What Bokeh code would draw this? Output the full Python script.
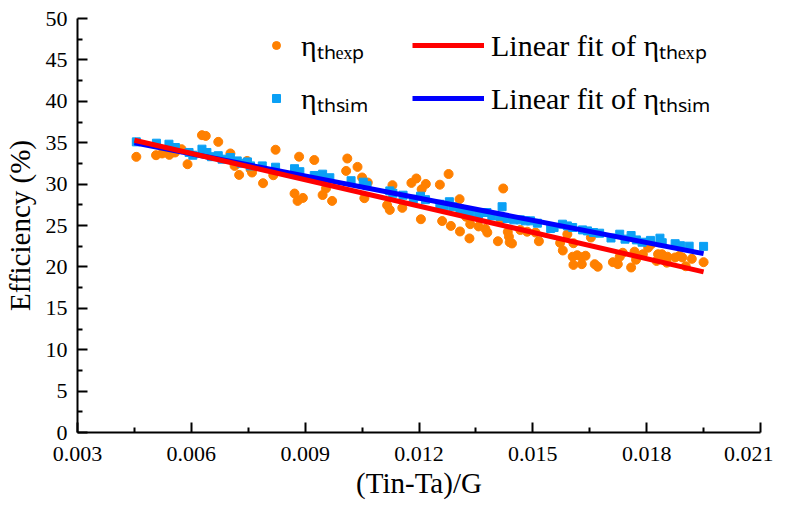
from bokeh.plotting import figure
from bokeh.models import (FixedTicker, PrintfTickFormatter, Legend, LegendItem, Range1d)
from bokeh.embed import file_html
from bokeh.resources import INLINE

# ---- data ----
exp_x = [0.00455, 0.00507, 0.00523, 0.00542, 0.00557, 0.00574, 0.00590, 0.00628, 0.00638, 0.00671,
         0.00703, 0.00714, 0.00726, 0.00747, 0.00756, 0.00760, 0.00789, 0.00822, 0.00816, 0.00872,
         0.00880, 0.00884, 0.00894, 0.00924, 0.00946, 0.00955, 0.00971, 0.01008, 0.01011, 0.01038,
         0.01050, 0.01056, 0.01065, 0.01116, 0.01123, 0.01130, 0.01156, 0.01180, 0.01193, 0.01207,
         0.01205, 0.01218, 0.01255, 0.01261, 0.01278, 0.01284, 0.01307, 0.01308, 0.01324, 0.01333,
         0.01335, 0.01357, 0.01375, 0.01380, 0.01408, 0.01415, 0.01422, 0.01434, 0.01437, 0.01439,
         0.01445, 0.01467, 0.01485, 0.01507, 0.01516, 0.01572, 0.01579, 0.01591, 0.01607, 0.01605,
         0.01617, 0.01629, 0.01639, 0.01607, 0.01629, 0.01653, 0.01663, 0.01671, 0.01711, 0.01724,
         0.01729, 0.01737, 0.01759, 0.01768, 0.01772, 0.01790, 0.01804, 0.01812, 0.01826, 0.01830,
         0.01840, 0.01847, 0.01855, 0.01853, 0.01875, 0.01886, 0.01894, 0.01903, 0.01919, 0.01950]
exp_y = [33.29, 33.49, 33.70, 33.53, 33.82, 34.22, 32.40, 35.91, 35.82, 35.10,
         33.70, 32.20, 31.11, 32.80, 31.80, 31.40, 30.11, 34.15, 31.07, 28.86,
         27.97, 33.31, 28.33, 32.91, 28.68, 29.48, 27.97, 31.59, 33.09, 32.08,
         30.80, 28.30, 30.19, 27.45, 26.88, 29.87, 27.13, 30.14, 30.68, 29.38,
         25.76, 30.02, 29.93, 25.54, 31.22, 24.95, 28.18, 24.28, 26.06, 23.44,
         25.16, 24.89, 24.59, 24.15, 23.10, 25.76, 29.47, 24.23, 23.65, 22.98,
         22.83, 24.46, 24.25, 24.15, 23.10, 22.90, 21.98, 23.95, 22.86, 21.23,
         21.41, 21.17, 21.35, 20.24, 20.33, 23.55, 20.33, 20.02, 20.57, 20.33,
         21.23, 21.71, 19.93, 21.84, 20.87, 21.53, 22.32, 22.74, 20.72, 21.53,
         21.53, 21.23, 21.23, 20.51, 21.14, 21.33, 21.14, 20.08, 20.97, 20.57]

sim_x = [0.00455, 0.00508, 0.00541, 0.00558, 0.00594, 0.00604, 0.00628, 0.00641, 0.00653, 0.00671,
         0.00681, 0.00703, 0.00721, 0.00732, 0.00748, 0.00756, 0.00787, 0.00822, 0.00872, 0.00886,
         0.00924, 0.00946, 0.00965, 0.01021, 0.01053, 0.01063, 0.01123, 0.01131, 0.01158, 0.01185,
         0.01204, 0.01217, 0.01255, 0.01266, 0.01280, 0.01289, 0.01308, 0.01322, 0.01333, 0.01357,
         0.01379, 0.01392, 0.01419, 0.01414, 0.01432, 0.01450, 0.01467, 0.01481, 0.01494, 0.01512,
         0.01547, 0.01556, 0.01578, 0.01591, 0.01605, 0.01631, 0.01644, 0.01660, 0.01676, 0.01706,
         0.01729, 0.01743, 0.01759, 0.01773, 0.01788, 0.01810, 0.01835, 0.01841, 0.01875, 0.01889,
         0.01912, 0.01950]
sim_y = [35.10, 34.94, 34.82, 34.42, 33.82, 33.49, 34.22, 33.82, 33.31, 33.43,
         33.01, 33.21, 32.80, 32.52, 32.68, 32.20, 32.20, 32.04, 31.86, 31.50,
         31.04, 31.20, 30.77, 30.41, 30.23, 29.81, 29.18, 28.90, 28.66, 28.18,
         28.54, 28.12, 27.57, 27.39, 27.87, 27.27, 26.97, 26.76, 26.57, 26.36,
         26.57, 26.16, 27.27, 26.12, 25.85, 25.68, 25.68, 25.56, 25.56, 25.28,
         24.64, 24.76, 25.16, 24.95, 24.76, 24.47, 24.35, 24.15, 24.07, 23.49,
         23.95, 23.35, 23.79, 23.26, 22.98, 23.20, 23.47, 22.92, 22.80, 22.56,
         22.50, 22.48]

fit_x = [0.0045, 0.0195]
fit_exp = [35.3, 19.4]
fit_sim = [35.0, 21.6]

x_ticks = [0.003, 0.006, 0.009, 0.012, 0.015, 0.018, 0.021]
y_ticks = [0, 5, 10, 15, 20, 25, 30, 35, 40, 45, 50]

label_exp = "η\u209c\u2095\u2091\u2093\u209a"
label_sim = "η\u209c\u2095\u209b\u1d62\u2098"

SERIF = "Liberation Serif"

p = figure(width=773, height=512,
           x_range=Range1d(0.003, 0.021), y_range=Range1d(0, 50),
           output_backend="svg", toolbar_location=None,
           min_border_left=75, min_border_top=18, min_border_right=13, min_border_bottom=80,
           background_fill_color="white", border_fill_color="white")
p.outline_line_color = None
p.xgrid.visible = False
p.ygrid.visible = False

x_minor = [(a + b) / 2 for a, b in zip(x_ticks[:-1], x_ticks[1:])]
y_minor = [(a + b) / 2 for a, b in zip(y_ticks[:-1], y_ticks[1:])]
p.xaxis.ticker = FixedTicker(ticks=x_ticks, minor_ticks=x_minor)
p.yaxis.ticker = FixedTicker(ticks=y_ticks, minor_ticks=y_minor)
p.xaxis.formatter = PrintfTickFormatter(format="%.3f")

for ax in (p.xaxis[0], p.yaxis[0]):
    ax.axis_line_width = 2
    ax.axis_line_color = "black"
    ax.major_tick_in = 10
    ax.major_tick_out = 0
    ax.minor_tick_in = 5
    ax.minor_tick_out = 0
    ax.major_tick_line_width = 2
    ax.minor_tick_line_width = 2
    ax.major_tick_line_color = "black"
    ax.minor_tick_line_color = "black"
    ax.major_label_text_font = SERIF
    ax.major_label_text_font_size = "22px"
    ax.major_label_text_color = "black"
    ax.axis_label_text_font = SERIF
    ax.axis_label_text_font_size = "29px"
    ax.axis_label_text_font_style = "normal"
    ax.axis_label_text_color = "black"

p.xaxis.major_label_standoff = 14
p.yaxis.major_label_standoff = 10
p.xaxis.axis_label = "(Tin-Ta)/G"
p.yaxis.axis_label = "Efficiency (%)"
p.xaxis.axis_label_standoff = 3
p.yaxis.axis_label_standoff = 7

r_exp = p.scatter(exp_x, exp_y, marker="circle", size=9, fill_color="#ff8000", line_color="#ff8000")
r_sim = p.scatter(sim_x, sim_y, marker="square", size=8, fill_color="#0aa0f5", line_color="#0aa0f5")
r_fsim = p.line(fit_x, fit_sim, line_color="#0000ff", line_width=5)
r_fexp = p.line(fit_x, fit_exp, line_color="#ff0000", line_width=5)

common = dict(label_text_font=SERIF, label_text_font_size="30px", label_text_color="black",
              padding=0, margin=0, border_line_alpha=0, background_fill_alpha=0,
              spacing=12)
leg1 = Legend(items=[LegendItem(label=label_exp, renderers=[r_exp]),
                     LegendItem(label=label_sim, renderers=[r_sim])],
              location=(189, 314), glyph_width=20, label_standoff=15, **common)
leg2 = Legend(items=[LegendItem(label="Linear fit of " + label_exp, renderers=[r_fexp]),
                     LegendItem(label="Linear fit of " + label_sim, renderers=[r_fsim])],
              location=(335, 314), glyph_width=72, label_standoff=7, **common)
p.add_layout(leg1, "center")
p.add_layout(leg2, "center")

open("out.html", "w").write(file_html(p, INLINE))
